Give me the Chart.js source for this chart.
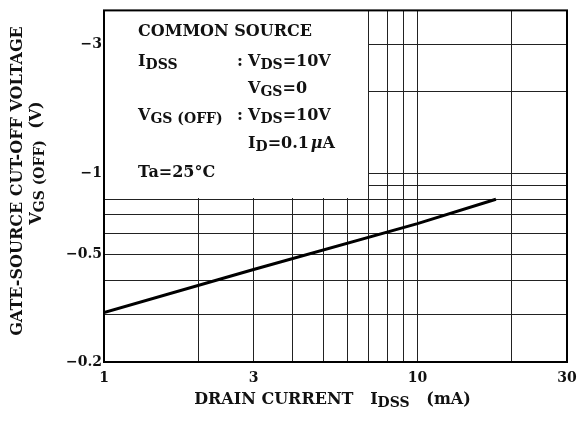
<!DOCTYPE html>
<html><head><meta charset="utf-8">
<script src="https://cdn.jsdelivr.net/npm/chart.js@4"></script>
<style>html,body{margin:0;padding:0;background:#fff}</style>
</head><body>
<canvas id="c" width="587" height="428"></canvas>
<script>
// ---- data ----
const idss = [1, 3, 10, 17.8];                 // mA
const vgsOff = [-0.305, -0.44, -0.65, -0.8];   // V
const xGridTicks = [1, 2, 3, 4, 5, 6, 7, 8, 9, 10, 20, 30];
const xTickLabels = [1, 3, 10, 30];
const yGridTicks = [-0.2, -0.3, -0.4, -0.5, -0.6, -0.7, -0.8, -0.9, -1, -2, -3];
const yTickLabels = [-0.2, -0.5, -1, -3];

const FONT = '"DejaVu Serif", "Liberation Serif", serif';
const MAIN = 'bold 16px ' + FONT;
const SUB = 'bold 14px ' + FONT;

function segWidth(ctx, segs) {
  let w = 0;
  segs.forEach(s => { ctx.font = s[1] ? SUB : MAIN; w += ctx.measureText(s[0]).width; });
  return w;
}
function drawSegs(ctx, segs, x, y, align) {
  // segs: [text, isSub]
  const w = segWidth(ctx, segs);
  let cx = align === 'center' ? x - w / 2 : x;
  ctx.textAlign = 'left';
  ctx.textBaseline = 'alphabetic';
  segs.forEach(s => {
    ctx.font = s[1] ? SUB : MAIN;
    ctx.fillText(s[0], cx, y + (s[1] ? 3 : 0));
    cx += ctx.measureText(s[0]).width;
  });
  return cx;
}

const overlay = {
  id: 'overlay',
  beforeDatasetsDraw(chart) {
    const ctx = chart.ctx, a = chart.chartArea;
    const xs = chart.scales.x, ys = chart.scales.y;
    const bx = Math.round(xs.getPixelForValue(7));
    const by = Math.round(ys.getPixelForValue(0.8));
    ctx.save();
    ctx.fillStyle = '#fff';
    ctx.fillRect(a.left, a.top, bx - a.left - 1, by - a.top - 1);
    ctx.fillStyle = '#111';
    const L = a.left + 34, C = a.left + 133, V = a.left + 144;
    drawSegs(ctx, [['COMMON SOURCE', false]], L, 36);
    drawSegs(ctx, [['I', false], ['DSS', true]], L, 66);
    drawSegs(ctx, [[':', false]], C, 66);
    drawSegs(ctx, [['V', false], ['DS', true], ['=10V', false]], V, 66);
    drawSegs(ctx, [['V', false], ['GS', true], ['=0', false]], V, 93);
    drawSegs(ctx, [['V', false], ['GS (OFF)', true]], L, 120);
    drawSegs(ctx, [[':', false]], C, 120);
    drawSegs(ctx, [['V', false], ['DS', true], ['=10V', false]], V, 120);
    let cx = drawSegs(ctx, [['I', false], ['D', true], ['=0.1', false]], V, 148);
    ctx.font = 'bold italic 16px ' + FONT;
    ctx.fillText('\u03bc', cx + 2, 148);
    const mw = ctx.measureText('\u03bc').width;
    ctx.font = MAIN;
    ctx.fillText('A', cx + 2 + mw, 148);
    drawSegs(ctx, [['Ta=25\u00b0C', false]], L, 177);
    ctx.restore();
  },
  afterDraw(chart) {
    const ctx = chart.ctx, a = chart.chartArea;
    ctx.save();
    ctx.strokeStyle = '#000';
    ctx.lineWidth = 2;
    ctx.strokeRect(a.left, a.top, a.right - a.left, a.bottom - a.top);
    ctx.fillStyle = '#111';
    // x title
    drawSegs(ctx, [['DRAIN CURRENT   I', false], ['DSS', true], ['   (mA)', false]], (a.left + a.right) / 2 - 3, 404, 'center');
    // y title
    ctx.save();
    ctx.translate(22, 181);
    ctx.rotate(-Math.PI / 2);
    drawSegs(ctx, [['GATE-SOURCE CUT-OFF VOLTAGE', false]], 0, 0, 'center');
    ctx.restore();
    ctx.save();
    ctx.translate(41, 163);
    ctx.rotate(-Math.PI / 2);
    drawSegs(ctx, [['V', false], ['GS (OFF)', true], ['  (V)', false]], 0, 0, 'center');
    ctx.restore();
    ctx.restore();
  }
};

const mag = v => Math.abs(v);

new Chart(document.getElementById('c'), {
  type: 'line',
  data: {
    datasets: [{
      data: idss.map((x, i) => ({ x: x, y: mag(vgsOff[i]) })),
      borderColor: '#000',
      borderWidth: 3,
      pointRadius: 0,
      fill: false,
      tension: 0
    }]
  },
  options: {
    responsive: false,
    animation: false,
    devicePixelRatio: 1,
    layout: { padding: { top: 5, right: 20, left: 0, bottom: 0 } },
    plugins: { legend: { display: false }, tooltip: { enabled: false } },
    scales: {
      x: {
        type: 'logarithmic',
        min: 1, max: 30,
        afterBuildTicks: s => { s.ticks = xGridTicks.map(v => ({ value: v })); },
        afterFit: s => { s.height = 66; },
        ticks: {
          autoSkip: false, maxRotation: 0, padding: 8,
          color: '#111', font: { family: FONT, size: 14, weight: 'bold' },
          callback: v => xTickLabels.includes(v) ? String(v) : ''
        },
        grid: { color: '#222', lineWidth: 1, drawTicks: false },
        border: { display: false }
      },
      y: {
        type: 'logarithmic',
        min: 0.2, max: 4,
        afterBuildTicks: s => { s.ticks = yGridTicks.map(v => ({ value: mag(v) })); },
        afterFit: s => { s.width = 104; },
        ticks: {
          autoSkip: false, padding: 2,
          color: '#111', font: { family: FONT, size: 14, weight: 'bold' },
          callback: v => yTickLabels.map(mag).includes(v) ? '\u2212' + v : ''
        },
        grid: { color: '#222', lineWidth: 1, drawTicks: false },
        border: { display: false }
      }
    }
  },
  plugins: [overlay]
});
</script>
</body></html>
